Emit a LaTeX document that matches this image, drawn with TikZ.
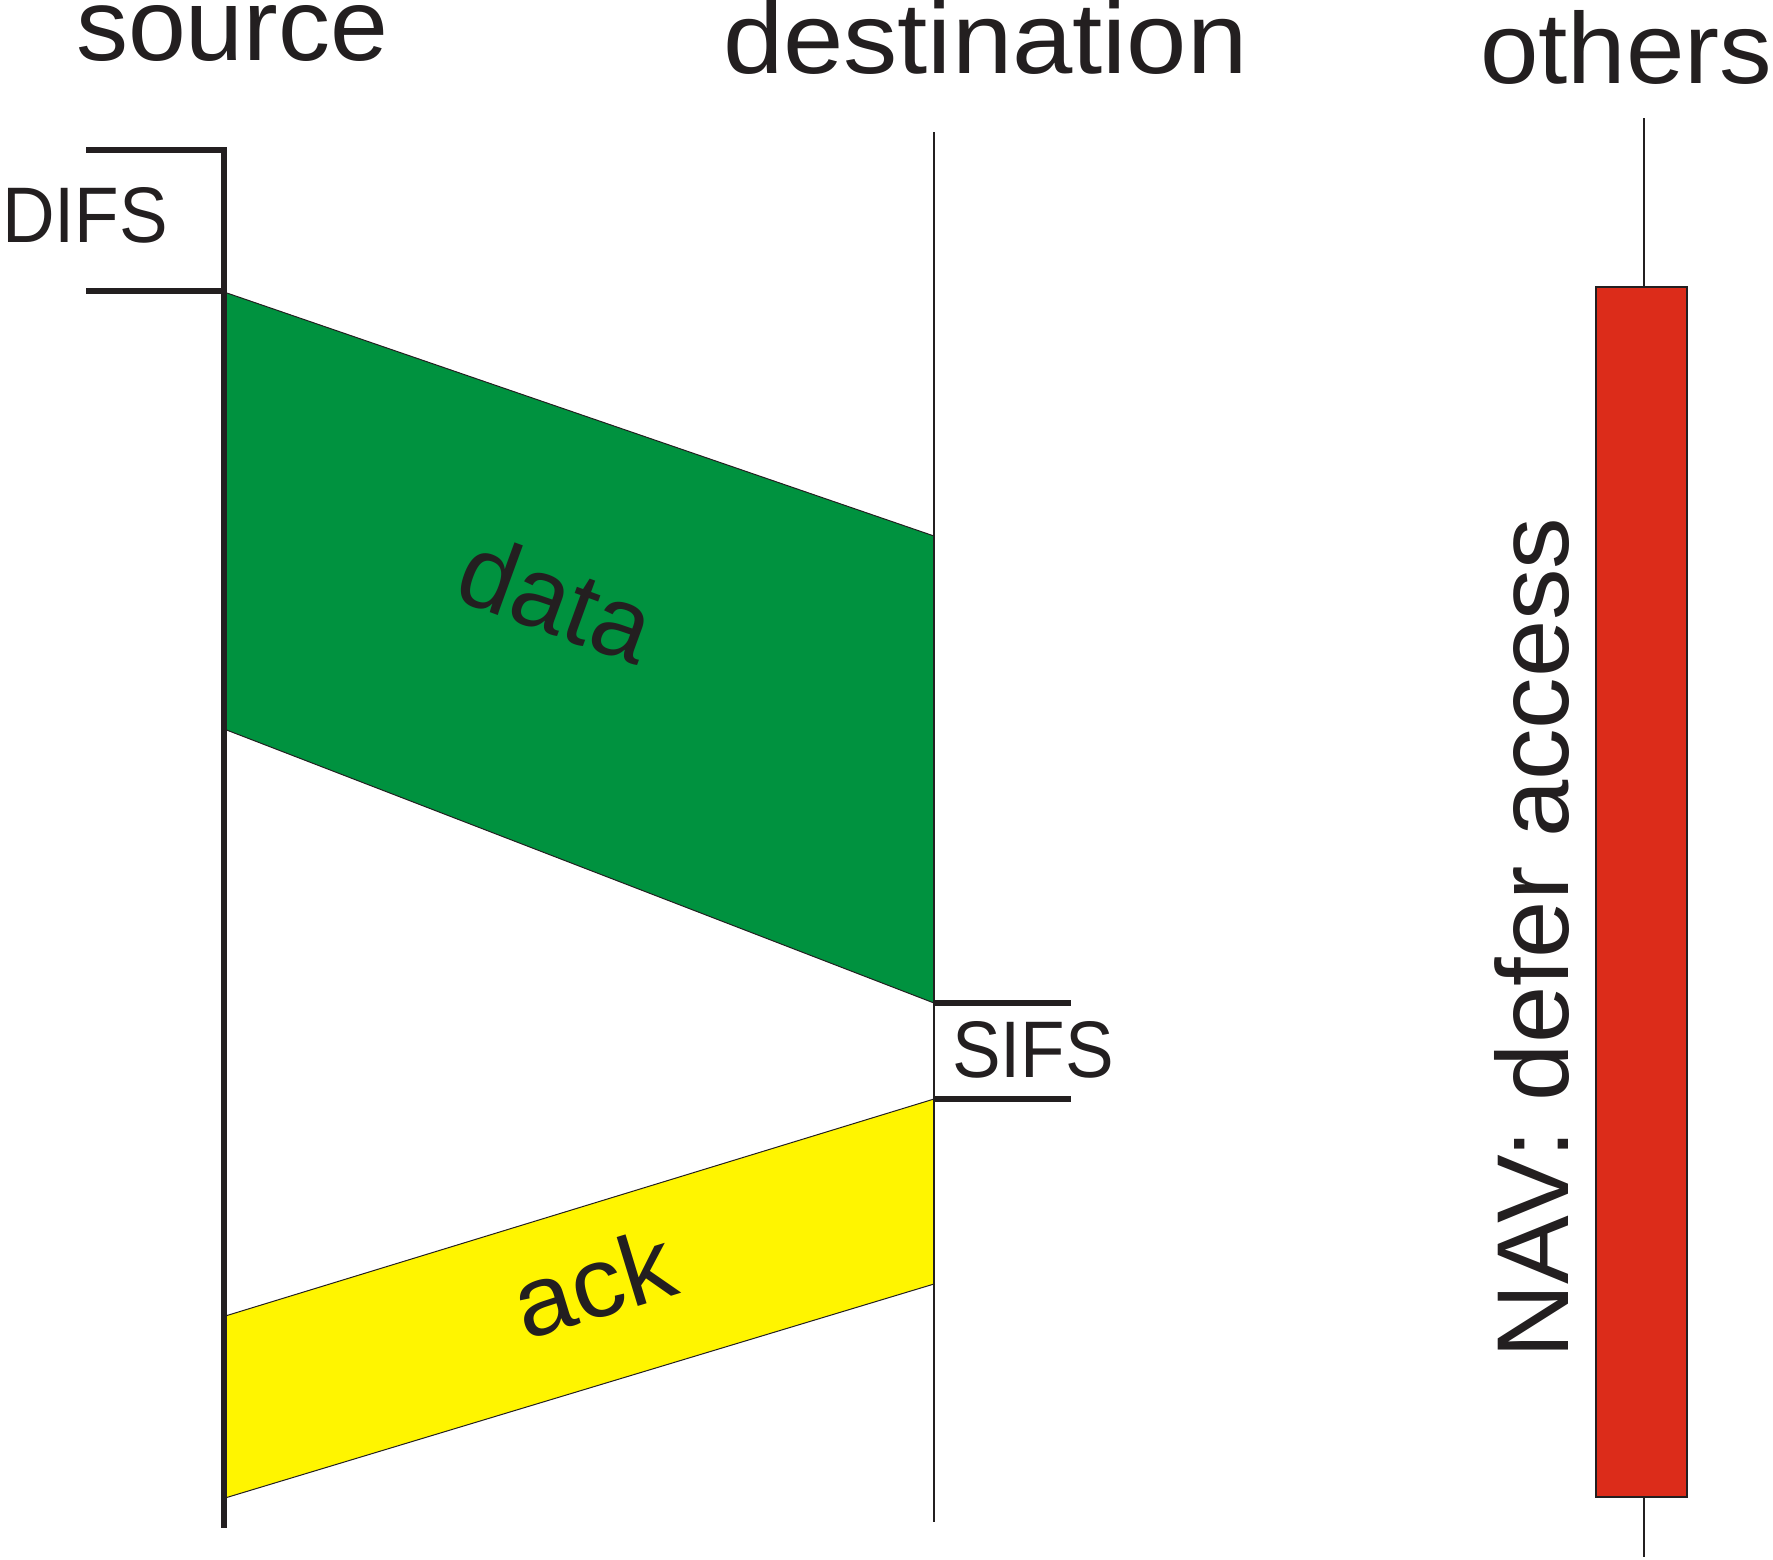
\documentclass[tikz,border=0pt]{standalone}
\usepackage{fontspec}
\setmainfont{Liberation Sans}
\usepackage{graphicx}
\definecolor{ink}{RGB}{35,31,32}
\definecolor{datagreen}{RGB}{0,146,63}
\definecolor{ackyellow}{RGB}{255,245,0}
\definecolor{navred}{RGB}{220,44,26}
\begin{document}
\begin{tikzpicture}[x=1pt,y=-1pt,
  txt/.style={inner sep=0pt, outer sep=0pt, text=ink},
  thickline/.style={draw=ink, line width=6pt},
  lifeline/.style={draw=ink, line width=1.5pt},
  frame/.style={draw=ink, line width=1pt}]
\useasboundingbox (0,0) rectangle (1773,1559);

% coordinates
\coordinate (srcTop) at (224,147);
\coordinate (srcBot) at (224,1528);
\coordinate (dstTop) at (934,132);
\coordinate (dstBot) at (934,1522);
\coordinate (othTop) at (1644,118);
\coordinate (othBot) at (1644,1557);

% others lifeline and NAV bar
\draw[lifeline] (othTop) -- (othBot);
\filldraw[fill=navred, frame, line width=1.5pt] (1596,287) rectangle (1687,1497);

% data and ack frames
\filldraw[fill=datagreen, frame] (224,292) -- (934,536) -- (934,1003) -- (224,729) -- cycle;
\filldraw[fill=ackyellow, frame] (934,1099) -- (934,1284) -- (225,1498) -- (222,1317) -- cycle;

% destination and source lifelines
\draw[lifeline] (dstTop) -- (dstBot);
\draw[thickline] (srcTop) -- (srcBot);

% DIFS bracket
\draw[thickline] (86,150) -- (224,150);
\draw[thickline] (86,291) -- (224,291);
% SIFS bracket
\draw[thickline] (934,1003) -- (1071,1003);
\draw[thickline] (934,1099) -- (1071,1099);

% labels
\node[txt, anchor=base west] (source) at (76,60) {\resizebox{312pt}{55pt}{source}};
\node[txt, anchor=base west] (destination) at (723,73) {\resizebox{524pt}{73pt}{destination}};
\node[txt, anchor=base west] (others) at (1480,83) {\resizebox{292pt}{73pt}{others}};
\node[txt, anchor=base west] (difs) at (2,242) {\resizebox{166pt}{55pt}{DIFS}};
\node[txt, anchor=base west] (sifs) at (952,1077) {\resizebox{162pt}{56pt}{SIFS}};
\node[txt, rotate=-20] (data) at (557,598) {\resizebox{197pt}{74pt}{data}};
\node[txt, rotate=17] (ack) at (593,1283) {\resizebox{163pt}{72pt}{ack}};
\node[txt, rotate=90] (nav) at (1532,938) {\resizebox{841pt}{74pt}{NAV: defer access}};
\end{tikzpicture}
\end{document}
